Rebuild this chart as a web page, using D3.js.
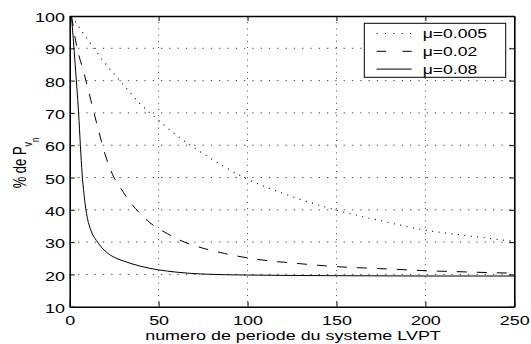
<!DOCTYPE html>
<html>
<head>
<meta charset="utf-8">
<script src="https://cdn.jsdelivr.net/npm/d3@7"></script>
<style>
  body { margin: 0; background: #fff; }
  text { font-family: "Liberation Sans", Arial, sans-serif; font-size: 13px; fill: #000; }
</style>
</head>
<body>
<div id="chart"></div>
<script>
// values
const seriesNames = ["\u03bc=0.005", "\u03bc=0.02", "\u03bc=0.08"];

const xDotted = [1, 10, 20, 30, 40, 50, 60, 75, 100, 125, 150, 175, 200, 225, 250];
const yDotted = [100, 92.8, 85.3, 78.8, 72.6, 67.7, 63.1, 57.4, 49.5, 44.1, 39.9, 36.6, 33.7, 31.9, 30.2];

const xDashed = [1, 4, 8, 12, 16, 20, 24, 28, 34, 40, 47, 55, 62, 75, 87, 100, 112, 124, 136, 150, 165, 178, 190, 202, 215, 227, 240, 250];
const yDashed = [100, 90.5, 82.4, 73.7, 65.0, 57.0, 51.0, 47.3, 42.4, 38.6, 35.2, 32.6, 30.6, 28.1, 26.5, 25.1, 24.2, 23.6, 23.0, 22.4, 22.0, 21.7, 21.4, 21.1, 20.9, 20.7, 20.5, 20.4];

const xSolid = [1, 2, 3, 4, 5, 6, 7, 8, 9, 10, 12, 15, 20, 25, 30, 40, 50, 60, 75, 100, 150, 200, 250];
const ySolid = [100, 93, 85.5, 78, 70, 60, 51, 45, 40.5, 37.3, 33.5, 30.5, 27.2, 25.3, 24.2, 22.5, 21.4, 20.7, 20.1, 19.8, 19.6, 19.5, 19.5];

const xTicks = [0, 50, 100, 150, 200, 250];
const yTicks = [10, 20, 30, 40, 50, 60, 70, 80, 90, 100];

const stretch = 1.38; // the picture's text is wider than it is tall

let margin = {top: 16, right: 16.7, bottom: 37.3, left: 69.7},
  width = 531 - margin.left - margin.right,
  height = 344 - margin.top - margin.bottom;

let svg = d3.select("#chart")
  .append("svg")
  .attr("width", 531)
  .attr("height", 344)
  .append("g")
  .attr("transform", "translate(" + margin.left + "," + margin.top + ")");

let x = d3.scaleLinear().domain([0, 250]).range([0, width]);
let y = d3.scaleLinear().domain([10, 100]).range([height, 0]);

// dotted grid
svg.append("g")
  .selectAll("line")
  .data(xTicks.slice(1, -1))
  .enter()
  .append("line")
  .attr("x1", d => x(d)).attr("x2", d => x(d))
  .attr("y1", 0).attr("y2", height)
  .attr("stroke", "#444")
  .attr("stroke-dasharray", "1,5.2");

svg.append("g")
  .selectAll("line")
  .data(yTicks.slice(1, -1))
  .enter()
  .append("line")
  .attr("x1", 0).attr("x2", width)
  .attr("y1", d => y(d)).attr("y2", d => y(d))
  .attr("stroke", "#444")
  .attr("stroke-dasharray", "1.3,7");

// curves
let line = d3.line()
  .x(d => x(d[0]))
  .y(d => y(d[1]))
  .curve(d3.curveMonotoneX);

const curves = [
  {xs: xDotted, ys: yDotted, dash: "1,5.5", w: 1.1},
  {xs: xDashed, ys: yDashed, dash: "10,10", w: 1},
  {xs: xSolid, ys: ySolid, dash: null, w: 1}
];

curves.forEach(c => {
  svg.append("path")
    .datum(c.xs.map((v, i) => [v, c.ys[i]]))
    .attr("fill", "none")
    .attr("stroke", "#000")
    .attr("stroke-width", c.w)
    .attr("stroke-dasharray", c.dash)
    .attr("d", line);
});

// axes with inward ticks on all four sides
let gx = svg.append("g")
  .attr("transform", "translate(0," + height + ")")
  .call(d3.axisBottom(x).tickValues(xTicks).tickSize(-5).tickSizeOuter(0));
gx.selectAll(".tick text")
  .attr("y", null).attr("dy", null)
  .attr("transform", "translate(0,17.8) scale(" + stretch + ",1)");

let gy = svg.append("g")
  .call(d3.axisLeft(y).tickValues(yTicks).tickSize(-5).tickSizeOuter(0));
gy.selectAll(".tick text")
  .attr("x", null).attr("dy", null)
  .attr("transform", "translate(-4.7,5.6) scale(" + stretch + ",1)");

svg.append("g")
  .call(d3.axisTop(x).tickValues(xTicks).tickSize(-5).tickSizeOuter(0).tickFormat(""));
svg.append("g")
  .attr("transform", "translate(" + width + ",0)")
  .call(d3.axisRight(y).tickValues(yTicks).tickSize(-5).tickSizeOuter(0).tickFormat(""));

svg.selectAll(".domain").attr("stroke-width", 1.6);
svg.selectAll(".tick line").attr("stroke-width", 1);
svg.selectAll(".tick text").style("font-family", "'Liberation Sans', Arial, sans-serif").style("font-size", "13px");

// axis titles
d3.select("#chart svg")
  .append("text")
  .attr("text-anchor", "middle")
  .attr("transform", "translate(" + (margin.left + width / 2 + 1) + ",339.5) scale(" + stretch + ",1)")
  .text("numero de periode du systeme LVPT");

let ylab = d3.select("#chart svg")
  .append("text")
  .attr("transform", "translate(25.5,188.3) rotate(-90) scale(1," + stretch + ")");
ylab.append("tspan").text("% de P");
ylab.append("tspan").attr("dy", 5).style("font-size", "9px").text("v");
ylab.append("tspan").attr("dy", 5).style("font-size", "8px").text("n");

// legend
let legend = svg.append("g")
  .attr("transform", "translate(" + (364.3 - margin.left) + "," + (23.3 - margin.top) + ")");

legend.append("rect")
  .attr("width", 141.4)
  .attr("height", 54)
  .attr("fill", "#fff")
  .attr("stroke", "#000")
  .attr("stroke-width", 1);

const legendDash = ["1,7.3", "9.3,16.4", null];
seriesNames.forEach((name, i) => {
  let row = 10.2 + i * 17.8;
  legend.append("line")
    .attr("x1", 12.4).attr("x2", 47.4)
    .attr("y1", row).attr("y2", row)
    .attr("stroke", "#000")
    .attr("stroke-width", 1)
    .attr("stroke-dasharray", legendDash[i]);
  legend.append("text")
    .attr("transform", "translate(58.4," + (row + 4.4) + ") scale(" + (stretch - 0.03) + ",1)")
    .text(name);
});
</script>
</body>
</html>
